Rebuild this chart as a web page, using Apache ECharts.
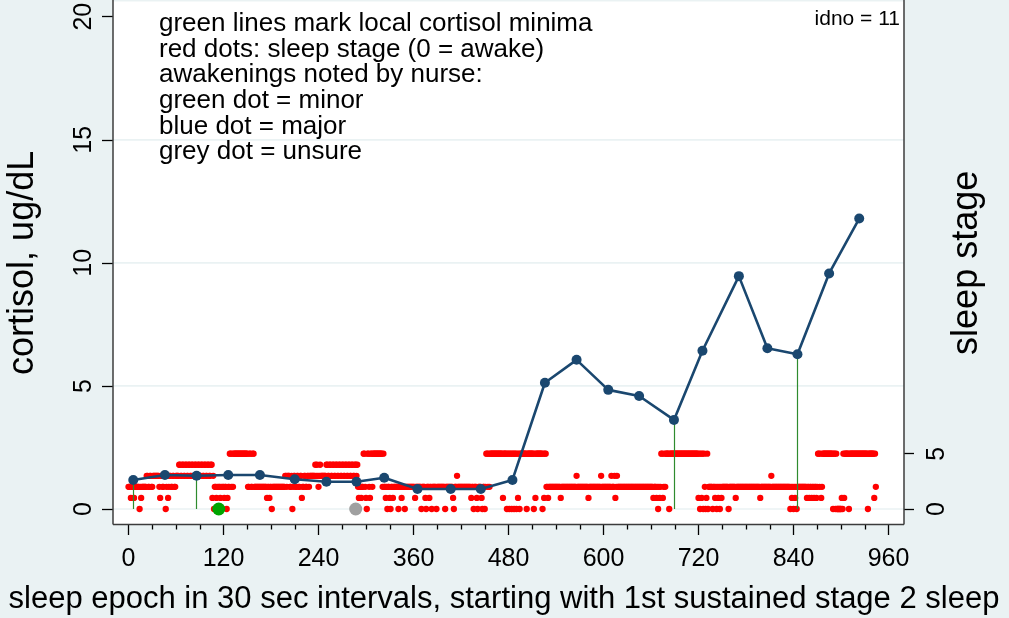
<!DOCTYPE html>
<html>
<head>
<meta charset="utf-8">
<script src="https://cdn.jsdelivr.net/npm/echarts@6/dist/echarts.min.js"></script>
<style>
  html, body { margin: 0; padding: 0; background: #EAF2F3; }
  #chart { width: 1009px; height: 618px; }
</style>
</head>
<body>
<div id="chart"></div>
<script>
// Cortisol samples: sleep epoch and value (ug/dL)
const cortisolEpoch = [6, 46, 86, 126, 166, 210, 250, 288, 323, 365, 407, 445,
                       485, 526, 566, 606, 645, 689, 725, 771, 807, 845, 885, 923];
const cortisolValue = [1.18, 1.38, 1.35, 1.38, 1.38, 1.21, 1.11, 1.11, 1.27, 0.81, 0.81, 0.81,
                       1.18, 5.13, 6.06, 4.84, 4.59, 3.62, 6.43, 9.46, 6.53, 6.29, 9.57, 11.8];
// Samples that are local cortisol minima (drawn as green drop lines)
const minimaIndex = [0, 2, 17, 21];

// Awakenings noted by the nurse (epoch)
const minorAwakening = [114];
const majorAwakening = [];
const unsureAwakening = [287];

// Sleep stage for every 30 s epoch; each row = [first epoch, one digit per epoch]
const sleepStageRows = [
  [0,   "22212221222222021222222" + "332233223" + "3333333" + "213322330231233223322"],
  [60,  "33" + "3344334433443344334433443344334433443344334" + "413022120221202"],
  [120, "21220122" + "55252" + "555555555555555555" + "22552255" + "2222222222222222" + "12212"],
  [180, "20" + "2222222222222222" + "332333" + "2230233223322331" + "22" + "3322332" + "3333333" + "4343"],
  [240, "2343" + "333333" + "44334433443344334433443344334433443344" + "342122122" + "552"],
  [300, "1055215525" + "5555555555" + "525" + "221202210221" + "222222" + "0" + "222" + "1" + "222" + "0" + "2222222222"],
  [360, "221" + "2222222" + "0" + "2222" + "10" + "222" + "1" + "22" + "0" + "22222" + "0" + "2222222222" + "0" + "222222222" + "10" + "222" + "3" + "2222"],
  [420, "2222222222222" + "1" + "22" + "0" + "222" + "1" + "0" + "2222" + "1" + "0" + "22" + "0" + "2" + "55252" + "5555555555555555" + "1" + "5555" + "0" + "5"],
  [480, "5" + "0" + "55" + "0" + "55" + "0" + "55" + "0" + "5" + "1" + "5" + "0" + "55555555" + "0" + "55555555" + "0" + "5" + "1" + "55555555" + "0" + "5" + "1" + "55" + "22" + "1" + "222222222"],
  [540, "222222" + "1" + "2222222222222222222" + "3" + "22222222222222" + "1" + "222222222222222" + "3" + "22"],
  [600, "2222222222" + "3" + "222" + "3" + "1" + "2" + "3" + "2222222222" + "2222222222" + "2222222222" + "2222222222" + "22"],
  [660, "222" + "1" + "222" + "1" + "2" + "0" + "2" + "1" + "2" + "551252" + "5555" + "0" + "5555555555" + "5555555555" + "5555555555" + "555555"],
  [720, "150515052015022" + "222" + "0" + "22" + "120212021" + "22222222" + "0" + "22222222" + "1" + "222222222222"],
  [780, "2222222222" + "22222222" + "1" + "2222222222" + "222" + "3" + "2222222222" + "2222222222" + "222" + "0" + "2" + "1" + "2"],
  [840, "02120" + "222222222222" + "12212212212212" + "552512" + "5555555555555" + "05505" + "00000"],
  [900, "010515" + "5555" + "0" + "55555555555555555555555" + "0" + "5555555" + "1" + "5" + "2"]
];

const xTicks = [0, 120, 240, 360, 480, 600, 720, 840, 960];
const cortisolTicks = [0, 5, 10, 15, 20];
const stageTicks = [0, 5];

const FONT = '"Liberation Sans", Arial, Helvetica, sans-serif';
const INK = '#000000';
const BG = '#EAF2F3';

// Plot region frame (axes sit on its edges)
const PLOT = { left: 113, right: 904, top: 1.5, bottom: 524.5 };
const GRID = { left: 128.5, right: 120.5, top: 16.7, bottom: 109 };
const AXIS_OFFSET = 15.5;

const stagePoints = [];
sleepStageRows.forEach(([start, digits]) => {
  for (let i = 0; i < digits.length; i++) {
    stagePoints.push([start + i, Number(digits[i])]);
  }
});

const cortisolPoints = cortisolEpoch.map((e, i) => [e, cortisolValue[i]]);
const minimaLines = minimaIndex.map(i => ({
  coords: [[cortisolEpoch[i], 0], [cortisolEpoch[i], cortisolValue[i]]]
}));

const chart = echarts.init(document.getElementById('chart'), null, { renderer: 'canvas' });

const tickStyle = { color: INK, width: 1.3 };

const option = {
  animation: false,
  backgroundColor: BG,
  textStyle: { fontFamily: FONT },
  grid: {
    left: GRID.left, right: GRID.right, top: GRID.top, bottom: GRID.bottom,
    containLabel: false, outerBoundsMode: 'none'
  },
  xAxis: {
    type: 'value', min: xTicks[0], max: xTicks[xTicks.length - 1], interval: 120,
    offset: AXIS_OFFSET,
    axisLine: { show: false, onZero: false },
    axisTick: { show: true, length: 10.5, lineStyle: tickStyle },
    minorTick: { show: true, splitNumber: 4, length: 5, lineStyle: tickStyle },
    axisLabel: { fontSize: 25, color: INK, margin: 22, fontFamily: FONT },
    splitLine: { show: false },
    name: 'sleep epoch in 30 sec intervals, starting with 1st sustained stage 2 sleep',
    nameLocation: 'middle', nameGap: 59, nameMoveOverlap: false,
    nameTextStyle: { fontSize: 31, color: INK, fontFamily: FONT, padding: [0, 9, 0, 0] }
  },
  yAxis: [
    {
      type: 'value', position: 'left', min: cortisolTicks[0], max: cortisolTicks[cortisolTicks.length - 1], interval: 5,
      offset: AXIS_OFFSET,
      axisLine: { show: false, onZero: false },
      axisTick: { show: true, length: 11, lineStyle: tickStyle },
      axisLabel: { rotate: 90, fontSize: 25, color: INK, margin: 16.3, fontFamily: FONT },
      splitLine: { show: false },
      name: 'cortisol, ug/dL', nameLocation: 'middle', nameRotate: 90, nameGap: 72, nameMoveOverlap: false,
      nameTextStyle: { fontSize: 36, color: INK, fontFamily: FONT }
    },
    {
      type: 'value', position: 'right', min: 0, max: 44.5,
      offset: AXIS_OFFSET,
      axisLine: { show: false, onZero: false },
      axisTick: { show: true, customValues: stageTicks, length: 10, lineStyle: tickStyle },
      axisLabel: { show: true, customValues: stageTicks, rotate: 90, fontSize: 25, color: INK, margin: 20.6, fontFamily: FONT },
      splitLine: { show: false },
      name: 'sleep stage', nameLocation: 'middle', nameRotate: 90, nameGap: 45, nameMoveOverlap: false,
      nameTextStyle: { fontSize: 36, color: INK, fontFamily: FONT }
    }
  ],
  series: [
    {
      name: 'sleep stage', type: 'scatter', yAxisIndex: 1, data: stagePoints,
      symbol: 'circle', symbolSize: 6.3, clip: false, z: 3,
      itemStyle: { color: '#FF0000', opacity: 1 }, silent: true
    },
    {
      name: 'minima', type: 'lines', coordinateSystem: 'cartesian2d', xAxisIndex: 0, yAxisIndex: 0,
      data: minimaLines, clip: false, z: 4, silent: true,
      lineStyle: { color: '#2E8B2E', width: 1.2, opacity: 1 }
    },
    {
      name: 'cortisol', type: 'line', yAxisIndex: 0, data: cortisolPoints,
      symbol: 'circle', symbolSize: 10, showSymbol: true, clip: false, z: 5,
      lineStyle: { color: '#1A476F', width: 2.6 },
      itemStyle: { color: '#1A476F', opacity: 1 }, silent: true
    },
    {
      name: 'minor', type: 'scatter', yAxisIndex: 0, data: minorAwakening.map(e => [e, 0]),
      symbol: 'circle', symbolSize: 13, clip: false, z: 6, itemStyle: { color: '#00A400', opacity: 1 }, silent: true
    },
    {
      name: 'major', type: 'scatter', yAxisIndex: 0, data: majorAwakening.map(e => [e, 0]),
      symbol: 'circle', symbolSize: 13, clip: false, z: 6, itemStyle: { color: '#1A476F', opacity: 1 }, silent: true
    },
    {
      name: 'unsure', type: 'scatter', yAxisIndex: 0, data: unsureAwakening.map(e => [e, 0]),
      symbol: 'circle', symbolSize: 13, clip: false, z: 6, itemStyle: { color: '#A0A0A0', opacity: 1 }, silent: true
    }
  ]
};

chart.setOption(option);

// Plot-region background, horizontal grid lines, frame and notes
const notes = [
  'green lines mark local cortisol minima',
  'red dots: sleep stage (0 = awake)',
  'awakenings noted by nurse:',
  'green dot = minor',
  'blue dot = major',
  'grey dot = unsure'
];

const graphics = [
  {
    type: 'rect', z: -1, silent: true,
    shape: { x: PLOT.left, y: PLOT.top, width: PLOT.right - PLOT.left, height: PLOT.bottom - PLOT.top },
    style: { fill: '#FFFFFF' }
  }
];

cortisolTicks.filter(v => v < cortisolTicks[cortisolTicks.length - 1]).forEach(v => {
  const y = chart.convertToPixel({ yAxisIndex: 0 }, v);
  graphics.push({
    type: 'line', z: -1, silent: true,
    shape: { x1: PLOT.left, y1: y, x2: PLOT.right, y2: y },
    style: { stroke: BG, lineWidth: 1.7 }
  });
});

const frameStyle = { stroke: '#3C3C3C', lineWidth: 1.5 };
graphics.push(
  { type: 'line', z: 20, silent: true, shape: { x1: PLOT.left, y1: PLOT.top - 1.5, x2: PLOT.left, y2: PLOT.bottom }, style: frameStyle },
  { type: 'line', z: 20, silent: true, shape: { x1: PLOT.right, y1: PLOT.top - 1.5, x2: PLOT.right, y2: PLOT.bottom }, style: frameStyle },
  { type: 'line', z: 20, silent: true, shape: { x1: PLOT.left, y1: PLOT.bottom, x2: PLOT.right, y2: PLOT.bottom }, style: frameStyle }
);

notes.forEach((t, i) => {
  graphics.push({
    type: 'text', z: 30, silent: true,
    x: 159, y: 24 + i * 25.6,
    style: { text: t, fontSize: 26, fontFamily: FONT, fill: INK, align: 'left', verticalAlign: 'middle' }
  });
});

graphics.push({
  type: 'text', z: 30, silent: true,
  x: 900, y: 19,
  style: { text: 'idno = 11', fontSize: 21, fontFamily: FONT, fill: INK, align: 'right', verticalAlign: 'middle' }
});

chart.setOption({ graphic: graphics });
</script>
</body>
</html>
